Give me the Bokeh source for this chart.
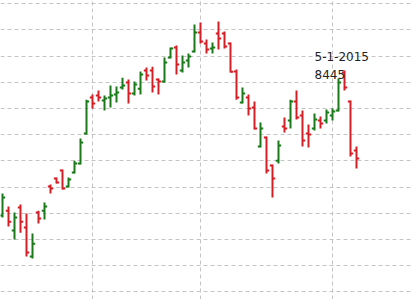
from bokeh.plotting import figure
from bokeh.models import Grid, FixedTicker, ColumnDataSource
from bokeh.core.properties import value
from bokeh.embed import file_html
from bokeh.resources import INLINE

# weekly OHLC bars (index = week number)
opens = [7891, 7910, 7834, 7922, 7846, 7735, 7903, 7910, 8002, 8033,
         8063, 8002, 8056, 8090, 8205, 8342, 8350, 8331, 8342, 8354,
         8380, 8399, 8357, 8376, 8445, 8445, 8411, 8403, 8495, 8533,
         8445, 8483, 8518, 8590, 8548, 8529, 8587, 8587, 8548, 8441,
         8323, 8342, 8304, 8155, 8189, 8082, 8101, 8231, 8254, 8327,
         8273, 8205, 8224, 8254, 8254, 8273, 8292, 8438, 8327, 8140]
highs = [7975, 7926, 7903, 7933, 7899, 7823, 7910, 7941, 8010, 8037,
         8067, 8037, 8101, 8186, 8334, 8354, 8369, 8350, 8388, 8384,
         8418, 8411, 8403, 8441, 8457, 8460, 8415, 8495, 8533, 8541,
         8503, 8510, 8621, 8629, 8564, 8552, 8632, 8594, 8552, 8449,
         8380, 8354, 8327, 8247, 8193, 8086, 8178, 8266, 8334, 8369,
         8292, 8239, 8281, 8270, 8296, 8300, 8415, 8445, 8331, 8155]
lows = [7884, 7849, 7800, 7826, 7735, 7727, 7861, 7876, 7975, 8014,
        7991, 7998, 8052, 8086, 8201, 8300, 8327, 8292, 8304, 8323,
        8373, 8319, 8350, 8354, 8407, 8361, 8354, 8399, 8491, 8430,
        8438, 8457, 8514, 8548, 8510, 8510, 8525, 8529, 8438, 8334,
        8319, 8273, 8220, 8151, 8052, 7960, 8090, 8208, 8224, 8258,
        8155, 8151, 8216, 8224, 8243, 8254, 8289, 8369, 8117, 8071]
closes = [7960, 7868, 7884, 7868, 7750, 7784, 7880, 7926, 7995, 8017,
          7995, 8029, 8090, 8170, 8327, 8319, 8342, 8338, 8350, 8361,
          8388, 8357, 8392, 8430, 8426, 8384, 8403, 8476, 8529, 8468,
          8476, 8499, 8590, 8556, 8525, 8533, 8567, 8537, 8440, 8342,
          8357, 8300, 8224, 8224, 8063, 8033, 8159, 8224, 8327, 8266,
          8178, 8201, 8258, 8243, 8285, 8289, 8399, 8380, 8128, 8109]

price_grid = [7600, 7700, 7800, 7900, 8000, 8100, 8200, 8300, 8400, 8500, 8600, 8700]
week_grid = [15, 33, 55]

label_date = "5-1-2015"
label_value = "8445"
label_x = 52
label_y = [8499, 8430]

UP = "#1a7a1a"
DOWN = "#d41e24"

idx = list(range(len(opens)))
colors = [UP if c >= o else DOWN for o, c in zip(opens, closes)]
tick = 0.45
src = ColumnDataSource(dict(
    x=idx, xl=[i - tick for i in idx], xr=[i + tick for i in idx],
    o=opens, h=highs, l=lows, c=closes, color=colors))

p = figure(width=413, height=299, output_backend="svg", toolbar_location=None,
           x_range=(-0.333, 68.5), y_range=(7570.6, 8712.6),
           x_axis_location=None, y_axis_location=None,
           min_border=0, outline_line_color=None)
p.renderers = [r for r in p.renderers]
for g in list(p.center):
    if isinstance(g, Grid):
        p.center.remove(g)

grid_style = dict(grid_line_color="#c4c4c4", grid_line_dash="4 3", grid_line_width=1)
p.add_layout(Grid(dimension=0, ticker=FixedTicker(ticks=week_grid), **grid_style), "center")
p.add_layout(Grid(dimension=1, ticker=FixedTicker(ticks=price_grid), **grid_style), "center")

p.segment(x0="x", y0="l", x1="x", y1="h", line_color="color", line_width=2, source=src)
p.segment(x0="xl", y0="o", x1="x", y1="o", line_color="color", line_width=2, source=src)
p.segment(x0="x", y0="c", x1="xr", y1="c", line_color="color", line_width=2, source=src)

p.text(x=[label_x, label_x], y=label_y, text=[label_date, label_value],
       text_font=value("DejaVu Sans"), text_font_size="12px", text_color="#222222",
       text_baseline="alphabetic", text_align="left")

open("out.html", "w").write(file_html(p, INLINE))
